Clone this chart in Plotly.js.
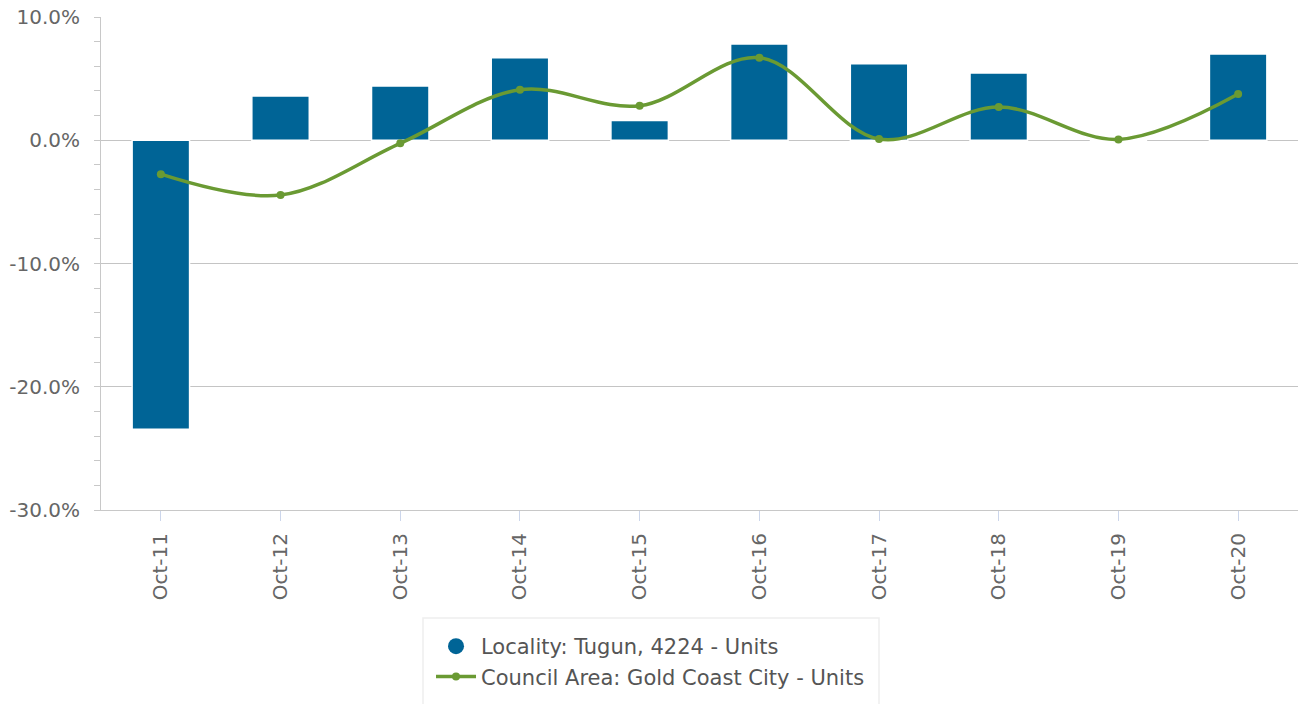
<!DOCTYPE html>
<html>
<head>
<meta charset="utf-8">
<script src="https://cdn.plot.ly/plotly-3.0.1.min.js"></script>
<style>html,body{margin:0;padding:0;background:#fff;}#chart{width:1298px;height:704px;}</style>
</head>
<body>
<div id="chart"></div>
<script>
const categories = ["Oct-11","Oct-12","Oct-13","Oct-14","Oct-15","Oct-16","Oct-17","Oct-18","Oct-19","Oct-20"];
const localityValues = [-23.45, 3.6, 4.4, 6.7, 1.6, 7.8, 6.2, 5.45, 0, 7.0];
const councilValues = [-2.75, -4.45, -0.25, 4.1, 2.8, 6.7, 0.1, 2.7, 0.07, 3.75];
const seriesNames = ["Locality: Tugun, 4224 - Units", "Council Area: Gold Coast City - Units"];
const yTicks = [-30, -20, -10, 0, 10];
const yTickText = ["-30.0%", "-20.0%", "-10.0%", "0.0%", "10.0%"];

const barColor = "#006496";
const lineColor = "#6a9a33";
const font = "DejaVu Sans, sans-serif";

const traces = [
  {
    type: "bar", x: categories, y: localityValues, name: seriesNames[0],
    marker: {color: barColor, line: {color: "#ffffff", width: 1.5}},
    showlegend: false, hoverinfo: "x+y"
  },
  {
    type: "scatter", mode: "markers", x: [null], y: [null], name: seriesNames[0],
    marker: {color: barColor, size: 20, symbol: "circle"}, showlegend: true
  },
  {
    type: "scatter", mode: "lines+markers", x: categories, y: councilValues, name: seriesNames[1],
    line: {color: lineColor, width: 3.5, shape: "spline", smoothing: 1},
    marker: {color: lineColor, size: 8}
  }
];

const layout = {
  width: 1298, height: 704,
  margin: {l: 101, r: 0, t: 17, b: 194, pad: 0},
  paper_bgcolor: "#ffffff", plot_bgcolor: "#ffffff",
  font: {family: font, size: 20, color: "#666666"},
  bargap: 0.52,
  showlegend: true,
  xaxis: {
    type: "category", tickangle: -90, automargin: false,
    range: [-0.5, categories.length - 0.5],
    showline: true, linecolor: "#c8c8c8", linewidth: 1,
    ticks: "outside", ticklen: 10, tickcolor: "#ccd6eb", tickwidth: 1,
    showgrid: false, zeroline: false,
    tickfont: {family: font, size: 20, color: "#666666"},
    ticklabelstandoff: 4
  },
  yaxis: {
    range: [-30, 10], tickvals: yTicks, ticktext: yTickText, automargin: false,
    showline: true, linecolor: "#c8c8c8", linewidth: 1,
    ticks: "outside", ticklen: 6, tickcolor: "#c8c8c8",
    showgrid: true, gridcolor: "#c4c4c4", gridwidth: 1,
    zeroline: false,
    minor: {dtick: 2, ticks: "outside", ticklen: 6, tickcolor: "#c8c8c8", showgrid: false},
    tickfont: {family: font, size: 20, color: "#666666"},
    ticklabelstandoff: 10
  },
  legend: {
    orientation: "v", x: 0.2757, xanchor: "left", y: -0.2353, yanchor: "top",
    borderwidth: 0, bgcolor: "rgba(0,0,0,0)",
    font: {family: font, size: 21, color: "#555555"},
    itemwidth: 40
  },
  shapes: [{
    type: "rect", xref: "paper", yref: "paper",
    x0: (423 - 101) / 1197, x1: (879 - 101) / 1197,
    y0: (510 - 618) / 493, y1: (510 - 712) / 493,
    line: {color: "#eeeeee", width: 1.5}, fillcolor: "rgba(0,0,0,0)", layer: "below"
  }]
};

Plotly.newPlot("chart", traces, layout, {displayModeBar: false, staticPlot: true});
</script>
</body>
</html>
